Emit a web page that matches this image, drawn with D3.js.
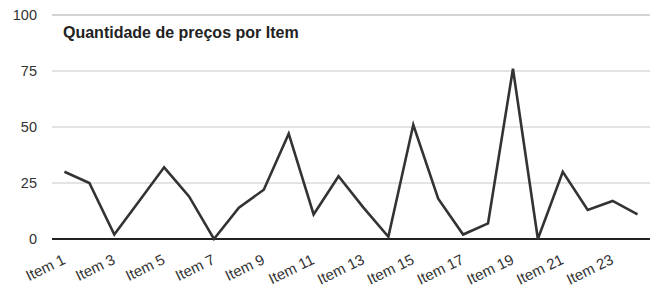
<!DOCTYPE html>
<html lang="pt">
<head>
  <meta charset="UTF-8">
  <title>Quantidade de preços por Item</title>
  <script src="https://d3js.org/d3.v7.min.js"></script>
  <style>
    body { margin: 0; background: #ffffff; font-family: 'Liberation Sans', Arial, sans-serif; }
    svg { display: block; }
  </style>
</head>
<body>
  <svg id="chart" width="665" height="294"></svg>
  <script>
    // dados
    const items = d3.range(1, 25).map(i => "Item " + i);
    const prices = [30, 25, 2, 17, 32, 19, 0, 14, 22, 47, 11, 28, 14, 1, 51, 18, 2, 7, 76, 0, 30, 13, 17, 11];
    const yTicks = [0, 25, 50, 75, 100];
    const chartTitle = "Quantidade de preços por Item";

    const svg = d3.select("#chart");
    const plotLeft = 52, plotRight = 650, plotTop = 15, plotBottom = 239;

    const x = d3.scalePoint().domain(items).range([plotLeft, plotRight]).padding(0.5);
    const y = d3.scaleLinear().domain([0, 100]).range([plotBottom, plotTop]);

    // linhas de grade
    svg.selectAll("line.grid")
      .data(yTicks.filter(d => d > 0))
      .enter()
      .append("line")
      .attr("class", "grid")
      .attr("x1", plotLeft).attr("x2", plotRight)
      .attr("y1", d => y(d)).attr("y2", d => y(d))
      .style("stroke", d => d === 100 ? "#d4d4d4" : "#c8c8c8")
      .style("stroke-width", d => d === 100 ? 2 : 1);

    // rótulos do eixo y
    svg.selectAll("text.ytick")
      .data(yTicks)
      .enter()
      .append("text")
      .attr("class", "ytick")
      .attr("x", 37)
      .attr("y", d => y(d))
      .attr("dy", "0.35em")
      .attr("text-anchor", "end")
      .style("font-size", "14.5px")
      .style("fill", "#333")
      .text(d => d);

    // linha do zero
    svg.append("line")
      .attr("x1", plotLeft).attr("x2", plotRight)
      .attr("y1", y(0)).attr("y2", y(0))
      .style("stroke", "#222")
      .style("stroke-width", 2);

    // série
    const line = d3.line()
      .x((d, i) => x(items[i]))
      .y(d => y(d));

    svg.append("path")
      .datum(prices)
      .attr("d", line)
      .style("fill", "none")
      .style("stroke", "#333")
      .style("stroke-width", 2.6)
      .style("stroke-linejoin", "miter");

    // rótulos do eixo x (só ímpares)
    svg.selectAll("text.xtick")
      .data(items.filter((d, i) => i % 2 === 0))
      .enter()
      .append("text")
      .attr("class", "xtick")
      .attr("text-anchor", "end")
      .attr("transform", d => `translate(${x(d) + 2},${y(0) + 24}) rotate(-26)`)
      .style("font-size", "15px")
      .style("fill", "#333")
      .text(d => d);

    // título
    svg.append("text")
      .attr("x", 63)
      .attr("y", 38)
      .style("font-size", "16px")
      .style("font-weight", "bold")
      .style("fill", "#222")
      .text(chartTitle);
  </script>
</body>
</html>
